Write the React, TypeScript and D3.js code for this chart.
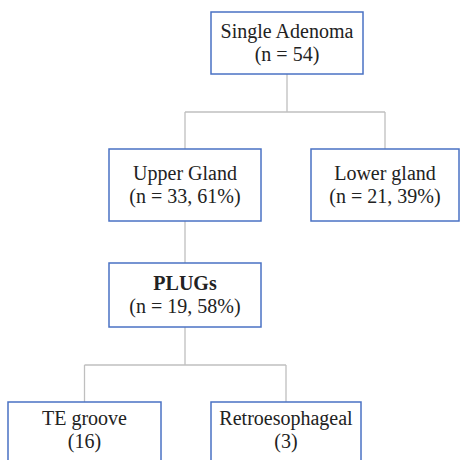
import React from "react";
import * as d3 from "d3";

// Data
const nodeIds = ["root", "upper", "lower", "plugs", "te", "retro"];
const nodeTitles = ["Single Adenoma", "Upper Gland", "Lower gland", "PLUGs", "TE groove", "Retroesophageal"];
const nodeSubtitles = ["(n = 54)", "(n = 33, 61%)", "(n = 21, 39%)", "(n = 19, 58%)", "(16)", "(3)"];
const nodeParents = ["", "root", "root", "upper", "plugs", "plugs"];
const boldTitles = ["plugs"];

// Layout (not data)
const W = 460, H = 460;
const FONT = "Liberation Serif, DejaVu Serif, serif";
const boxX: Record<string, [number, number]> = {
  root: [211, 363],
  upper: [109, 261],
  lower: [311, 459],
  plugs: [109, 261],
  te: [8, 161],
  retro: [211, 361],
};
const boxY: Record<string, [number, number]> = {
  root: [12, 74],
  upper: [149, 221],
  lower: [149, 221],
  plugs: [263, 327],
  te: [402, 480],
  retro: [402, 480],
};
const elbowY: Record<string, number> = { root: 112, upper: 0, plugs: 365 };

export default function App() {
  const nodes = nodeIds.map((id, i) => ({
    id,
    title: nodeTitles[i],
    sub: nodeSubtitles[i],
    parent: nodeParents[i] || null,
  }));
  const root = d3
    .stratify<any>()
    .id((d: any) => d.id)
    .parentId((d: any) => d.parent)(nodes);

  const cx = (id: string) => (boxX[id][0] + boxX[id][1]) / 2;

  const links: any[] = [];
  root.each((n: any) => {
    if (!n.children) return;
    const p = n.id;
    const px = cx(p);
    const pb = boxY[p][1];
    if (n.children.length === 1) {
      const c = n.children[0].id;
      links.push(
        <line key={"l" + c} x1={px} y1={pb} x2={cx(c)} y2={boxY[c][0]} stroke="#bfbfbf" strokeWidth={1.3} />
      );
    } else {
      const ey = elbowY[p];
      links.push(<line key={"v" + p} x1={px} y1={pb} x2={px} y2={ey} stroke="#bfbfbf" strokeWidth={1.3} />);
      const xs = n.children.map((c: any) => cx(c.id));
      links.push(
        <line key={"h" + p} x1={d3.min(xs)} y1={ey} x2={d3.max(xs)} y2={ey} stroke="#bfbfbf" strokeWidth={1.3} />
      );
      n.children.forEach((c: any) => {
        links.push(
          <line key={"c" + c.id} x1={cx(c.id)} y1={ey} x2={cx(c.id)} y2={boxY[c.id][0]} stroke="#bfbfbf" strokeWidth={1.3} />
        );
      });
    }
  });

  return (
    <svg width={W} height={H} style={{ position: "absolute", left: 0, top: 0 }}>
      <rect x={0} y={0} width={W} height={H} fill="#fff" />
      {links}
      {root.descendants().map((n: any) => {
        const [x0, x1] = boxX[n.id];
        const [y0, y1] = boxY[n.id];
        const midY = n.id === "te" || n.id === "retro" ? 430 : (y0 + y1) / 2;
        const bold = boldTitles.includes(n.id);
        return (
          <g key={n.id}>
            <rect x={x0} y={y0} width={x1 - x0} height={y1 - y0} fill="#fff" stroke="#4a72c4" strokeWidth={1.5} />
            <text
              x={(x0 + x1) / 2}
              y={midY - 5}
              textAnchor="middle"
              style={{ fontFamily: FONT, fontSize: 20, fontWeight: bold ? "bold" : "normal" }}
              fill="#222"
            >
              {n.data.title}
            </text>
            <text
              x={(x0 + x1) / 2}
              y={midY + 18}
              textAnchor="middle"
              style={{ fontFamily: FONT, fontSize: 20 }}
              fill="#222"
            >
              {n.data.sub}
            </text>
          </g>
        );
      })}
    </svg>
  );
}
